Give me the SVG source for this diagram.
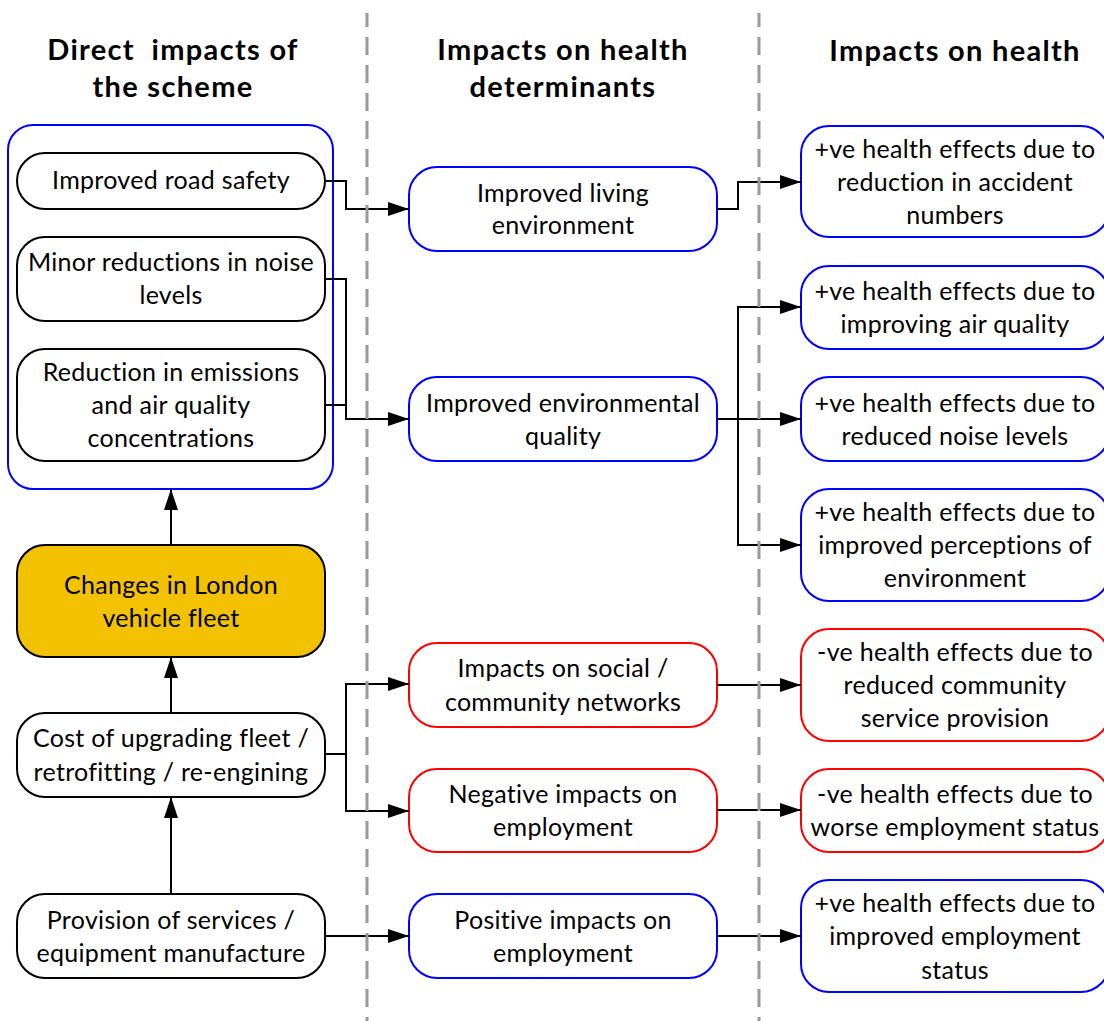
<svg xmlns="http://www.w3.org/2000/svg" width="1104" height="1021" viewBox="0 0 1104 1021">
<style>
text{font-family:Lato,"Noto Sans","DejaVu Sans",sans-serif;font-size:25px;letter-spacing:0.3px;fill:#000;text-anchor:middle}
.hd{font-size:29px;font-weight:bold;letter-spacing:1.3px}
.nb{fill:#fff;stroke:#000;stroke-width:2}
.nblue{fill:#fff;stroke:#0000ff;stroke-width:2}
.nred{fill:#fff;stroke:#ff0000;stroke-width:2}
.nyel{fill:#f2c200;stroke:#000;stroke-width:2}
.cont{fill:none;stroke:#0000ff;stroke-width:2}
.c{fill:none;stroke:#000;stroke-width:2}
.ca{fill:none;stroke:#000;stroke-width:2;marker-end:url(#ah)}
.dash{stroke:#9a9a9a;stroke-width:3;stroke-dasharray:18 10;stroke-dashoffset:4}
</style>
<defs>
<marker id="ah" markerUnits="userSpaceOnUse" markerWidth="21" markerHeight="14" refX="21" refY="7" orient="auto">
<path d="M0,0 L21,7 L0,14 z" fill="#000"/>
</marker>
</defs>
<rect width="1104" height="1021" fill="#fff"/>
<g id="headers">
<text class="hd" x="173" y="60" xml:space="preserve">Direct  impacts of</text>
<text class="hd" x="173" y="97">the scheme</text>
<text class="hd" x="563" y="60">Impacts on health</text>
<text class="hd" x="563" y="97">determinants</text>
<text class="hd" x="955" y="61">Impacts on health</text>
</g>
<g id="container"><rect class="cont" x="8" y="125" width="325" height="364" rx="25"/></g>
<g id="n-road"><rect class="nb" x="17" y="153" width="308" height="56" rx="28"/><text x="171" y="189">Improved road safety</text></g>
<g id="n-noise"><rect class="nb" x="17" y="237" width="308" height="84" rx="28"/><text x="171" y="271">Minor reductions in noise</text><text x="171" y="304">levels</text></g>
<g id="n-emis"><rect class="nb" x="17" y="349" width="308" height="112" rx="28"/><text x="171" y="381">Reduction in emissions</text><text x="171" y="414">and air quality</text><text x="171" y="447">concentrations</text></g>
<g id="n-fleet"><rect class="nyel" x="17" y="545" width="308" height="112" rx="28"/><text x="171" y="594">Changes in London</text><text x="171" y="627">vehicle fleet</text></g>
<g id="n-cost"><rect class="nb" x="17" y="713" width="308" height="84" rx="28"/><text x="171" y="747">Cost of upgrading fleet /</text><text x="171" y="781">retrofitting / re-engining</text></g>
<g id="n-prov"><rect class="nb" x="17" y="894" width="308" height="84" rx="28"/><text x="171" y="929">Provision of services /</text><text x="171" y="962">equipment manufacture</text></g>
<g id="n-living"><rect class="nblue" x="409" y="167" width="308" height="84" rx="28"/><text x="563" y="202">Improved living</text><text x="563" y="234">environment</text></g>
<g id="n-envq"><rect class="nblue" x="409" y="377" width="308" height="84" rx="28"/><text x="563" y="412">Improved environmental</text><text x="563" y="445">quality</text></g>
<g id="n-social"><rect class="nred" x="409" y="643" width="308" height="84" rx="28"/><text x="563" y="677">Impacts on social /</text><text x="563" y="711">community networks</text></g>
<g id="n-negemp"><rect class="nred" x="409" y="769" width="308" height="83" rx="28"/><text x="563" y="803">Negative impacts on</text><text x="563" y="836">employment</text></g>
<g id="n-posemp"><rect class="nblue" x="409" y="894" width="308" height="84" rx="28"/><text x="563" y="929">Positive impacts on</text><text x="563" y="962">employment</text></g>
<g id="n-accident"><rect class="nblue" x="801" y="126" width="308" height="111" rx="28"/><text x="955" y="158">+ve health effects due to</text><text x="955" y="191">reduction in accident</text><text x="955" y="224">numbers</text></g>
<g id="n-air"><rect class="nblue" x="801" y="266" width="308" height="83" rx="28"/><text x="955" y="300">+ve health effects due to</text><text x="955" y="333">improving air quality</text></g>
<g id="n-noiseh"><rect class="nblue" x="801" y="377" width="308" height="84" rx="28"/><text x="955" y="412">+ve health effects due to</text><text x="955" y="445">reduced noise levels</text></g>
<g id="n-percep"><rect class="nblue" x="801" y="489" width="308" height="112" rx="28"/><text x="955" y="521">+ve health effects due to</text><text x="955" y="554">improved perceptions of</text><text x="955" y="587">environment</text></g>
<g id="n-community"><rect class="nred" x="801" y="629" width="308" height="112" rx="28"/><text x="955" y="661">-ve health effects due to</text><text x="955" y="694">reduced community</text><text x="955" y="727">service provision</text></g>
<g id="n-worse"><rect class="nred" x="801" y="769" width="308" height="83" rx="28"/><text x="955" y="803">-ve health effects due to</text><text x="955" y="836">worse employment status</text></g>
<g id="n-impemp"><rect class="nblue" x="801" y="880" width="308" height="112" rx="28"/><text x="955" y="912">+ve health effects due to</text><text x="955" y="945">improved employment</text><text x="955" y="979">status</text></g>
<g id="connectors">
<path class="ca" d="M325,181 H346 V209 H409"/>
<path class="ca" d="M325,279 H346 V419 H409"/>
<path class="c" d="M325,405 H346"/>
<path class="ca" d="M717,209 H738 V182 H801"/>
<path class="ca" d="M717,419 H801"/>
<path class="ca" d="M738,419 V307 H801"/>
<path class="ca" d="M738,419 V545 H801"/>
<path class="ca" d="M171,545 V489"/>
<path class="ca" d="M171,713 V657"/>
<path class="ca" d="M171,894 V797"/>
<path class="ca" d="M325,754 H346 V684 H409"/>
<path class="ca" d="M346,754 V811 H409"/>
<path class="ca" d="M325,936 H409"/>
<path class="ca" d="M717,685 H801"/>
<path class="ca" d="M717,810 H801"/>
<path class="ca" d="M717,936 H801"/>
</g>
<g id="dividers">
<line class="dash" x1="367" y1="13" x2="367" y2="1021"/>
<line class="dash" x1="759" y1="13" x2="759" y2="1021"/>
</g>
</svg>
